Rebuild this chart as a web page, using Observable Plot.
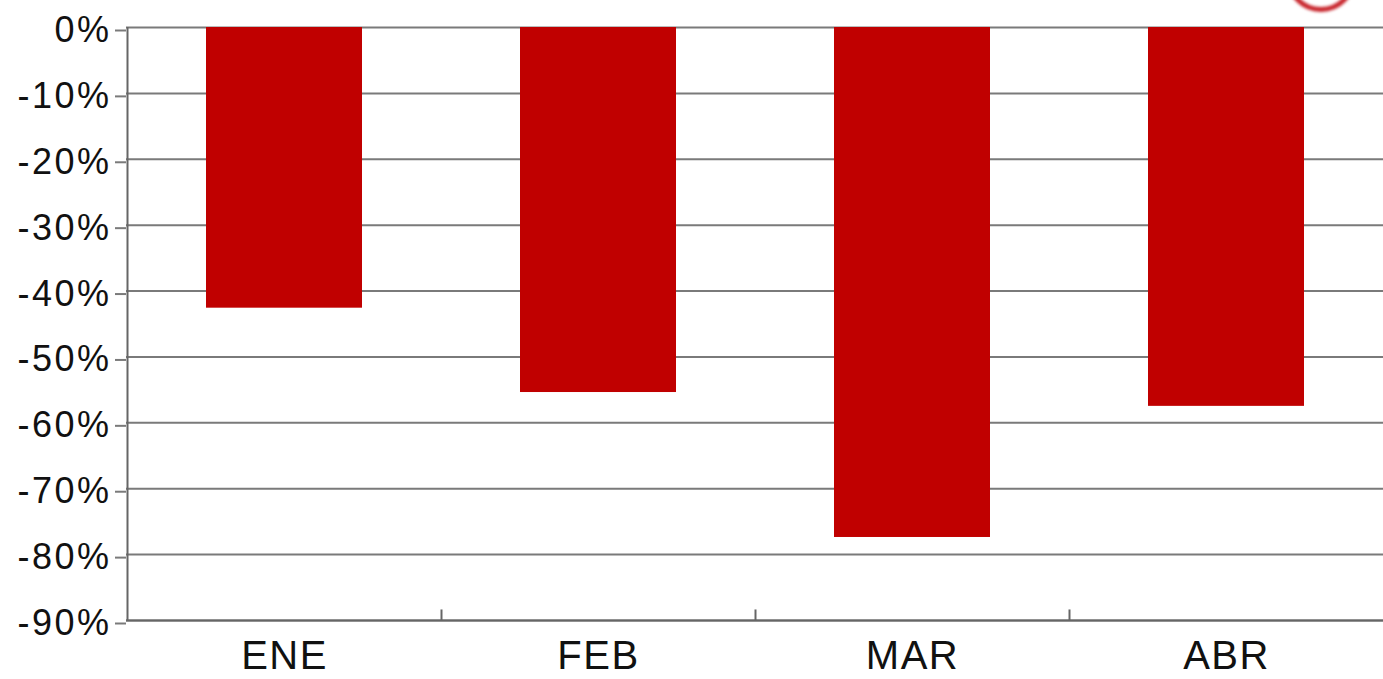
<!DOCTYPE html>
<html>
<head>
<meta charset="utf-8">
<script src="https://cdn.jsdelivr.net/npm/d3@7"></script>
<script src="https://cdn.jsdelivr.net/npm/@observablehq/plot@0.6"></script>
<style>
  html, body { margin: 0; padding: 0; background: #fff; overflow: hidden; }
  #wrap { position: relative; width: 1383px; height: 679px; }
  #logo { position: absolute; left: 1286px; top: -58px; width: 60px; height: 60px; border-radius: 50%; border: 5px solid #c8242b; filter: blur(1.5px); }
</style>
</head>
<body>
<div id="wrap"><div id="chart"></div><div id="logo"></div></div>
<script>
const months = ["ENE", "FEB", "MAR", "ABR"];
const values = [-42.6, -55.4, -77.4, -57.5];
const yTicks = [0, -10, -20, -30, -40, -50, -60, -70, -80, -90];

const data = months.map((m, i) => ({ month: m, value: values[i] }));

const chart = Plot.plot({
  width: 1383,
  height: 679,
  marginLeft: 126,
  marginRight: 0,
  marginTop: 27,
  marginBottom: 59,
  style: { fontFamily: "'Liberation Sans', Arial, sans-serif", background: "#fff", color: "#111" },
  x: { domain: months, padding: 0, align: 0.5 },
  y: { domain: [-90, 0] },
  marks: [
    Plot.ruleY(yTicks, { stroke: "#7a7a7a", strokeWidth: 2 }),
    Plot.barY(data, { x: "month", y: "value", fill: "#c00000", insetLeft: 79, insetRight: 79 }),
    Plot.ruleX([months[0]], { dx: -157, y1: -90, y2: 0, stroke: "#666", strokeWidth: 2 }),
    Plot.ruleX(months.slice(1), { dx: -157, y1: -90, y2: -88.4, stroke: "#666", strokeWidth: 2 }),
    Plot.ruleY([-90], { stroke: "#666", strokeWidth: 2 }),
    Plot.axisY({
      ticks: yTicks,
      tickSize: 11,
      tickPadding: 4,
      stroke: "#7a7a7a",
      strokeWidth: 2,
      tickFormat: d => d + "%",
      fontSize: 36,
      dy: 3,
      label: null
    }),
    Plot.axisX({
      tickSize: 0,
      tickPadding: 20,
      fontSize: 40,
      label: null
    })
  ]
});
document.getElementById("chart").appendChild(chart);
chart.querySelectorAll("g[aria-label='y-axis tick label'] text").forEach(t => t.style.letterSpacing = "2.5px");
chart.querySelectorAll("g[aria-label='x-axis tick label'] text").forEach(t => t.style.letterSpacing = "1.5px");
</script>
</body>
</html>
